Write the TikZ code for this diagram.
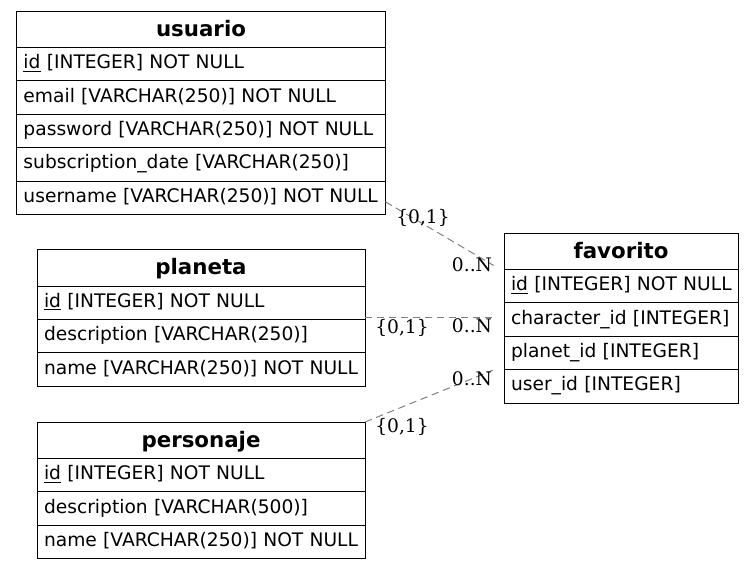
\documentclass[tikz,border=0pt]{standalone}
\usepackage{fontspec}
\newfontfamily\tabfont{DejaVu Sans}
\newfontfamily\lblfont{DejaVu Serif}
\definecolor{edgegray}{RGB}{128,128,128}
% one table row: a strut and the text kept on a single line
\newcommand\rowtext[1]{\strut\mbox{#1}}
% table heading: sits a little below the middle of its cell
\newcommand\headtext[1]{\rule[-2.8pt]{0pt}{16.8pt}#1}
\begin{document}
\begin{tikzpicture}[x=0.75pt,y=-0.75pt,
  box/.style={draw=black, line width=0.75pt, rectangle, anchor=north west,
    inner ysep=0pt, outer sep=0pt},
  tabtitle/.style={box, font=\tabfont\bfseries\fontsize{16}{19}\selectfont,
    minimum height=27.4pt, inner xsep=0pt, align=center, text width=#1},
  field/.style={box, font=\tabfont\fontsize{14}{17}\selectfont,
    minimum height=25.05pt, inner xsep=5.25pt, align=left, text width=#1},
  rel/.style={draw=edgegray, line width=0.75pt, dash pattern=on 5.5pt off 3.5pt},
  card/.style={font=\lblfont\fontsize{14}{17}\selectfont, inner sep=0pt}]
\useasboundingbox (0,0) rectangle (755,569);

% usuario
\node[tabtitle=276.75pt] (u0) at (16.5,11) {\headtext{usuario}};
\node[field=266.25pt] (u1) at (u0.south west) {\rowtext{\underline{id} [INTEGER] NOT NULL}};
\node[field=266.25pt] (u2) at (u1.south west) {\rowtext{email [VARCHAR(250)] NOT NULL}};
\node[field=266.25pt] (u3) at (u2.south west) {\rowtext{password [VARCHAR(250)] NOT NULL}};
\node[field=266.25pt] (u4) at (u3.south west) {\rowtext{subscription\_date [VARCHAR(250)]}};
\node[field=266.25pt] (u5) at (u4.south west) {\rowtext{username [VARCHAR(250)] NOT NULL}};

% planeta
\node[tabtitle=246pt] (p0) at (37,249.5) {\headtext{planeta}};
\node[field=235.5pt] (p1) at (p0.south west) {\rowtext{\underline{id} [INTEGER] NOT NULL}};
\node[field=235.5pt] (p2) at (p1.south west) {\rowtext{description [VARCHAR(250)]}};
\node[field=235.5pt] (p3) at (p2.south west) {\rowtext{name [VARCHAR(250)] NOT NULL}};

% personaje
\node[tabtitle=246pt] (r0) at (37,422) {\headtext{personaje}};
\node[field=235.5pt] (r1) at (r0.south west) {\rowtext{\underline{id} [INTEGER] NOT NULL}};
\node[field=235.5pt] (r2) at (r1.south west) {\rowtext{description [VARCHAR(500)]}};
\node[field=235.5pt] (r3) at (r2.south west) {\rowtext{name [VARCHAR(250)] NOT NULL}};

% favorito
\node[tabtitle=175.5pt] (f0) at (504,233) {\headtext{favorito}};
\node[field=165pt] (f1) at (f0.south west) {\rowtext{\underline{id} [INTEGER] NOT NULL}};
\node[field=165pt] (f2) at (f1.south west) {\rowtext{character\_id [INTEGER]}};
\node[field=165pt] (f3) at (f2.south west) {\rowtext{planet\_id [INTEGER]}};
\node[field=165pt] (f4) at (f3.south west) {\rowtext{user\_id [INTEGER]}};

% relationships
\draw[rel, shorten >=9pt] ([yshift=-3pt]u5.east) -- ([yshift=-1.5pt]f0.south west);
\draw[rel, shorten >=9pt] ([yshift=1.8pt]p1.south east) -- ([yshift=1.8pt]p1.south east -| f2.west);
\draw[rel, shorten >=9pt] (r0.north east) -- ([yshift=3pt]f3.south west);

% cardinalities
\node[card] (c1a) at (423,217.5) {\{0,1\}};
\node[card] (c1b) at (472,264.5) {0..N};
\node[card] (c2a) at (402,327.5) {\{0,1\}};
\node[card] (c2b) at (472,325.5) {0..N};
\node[card] (c3b) at (472,378.5) {0..N};
\node[card] (c3a) at (402,427) {\{0,1\}};
\end{tikzpicture}
\end{document}
